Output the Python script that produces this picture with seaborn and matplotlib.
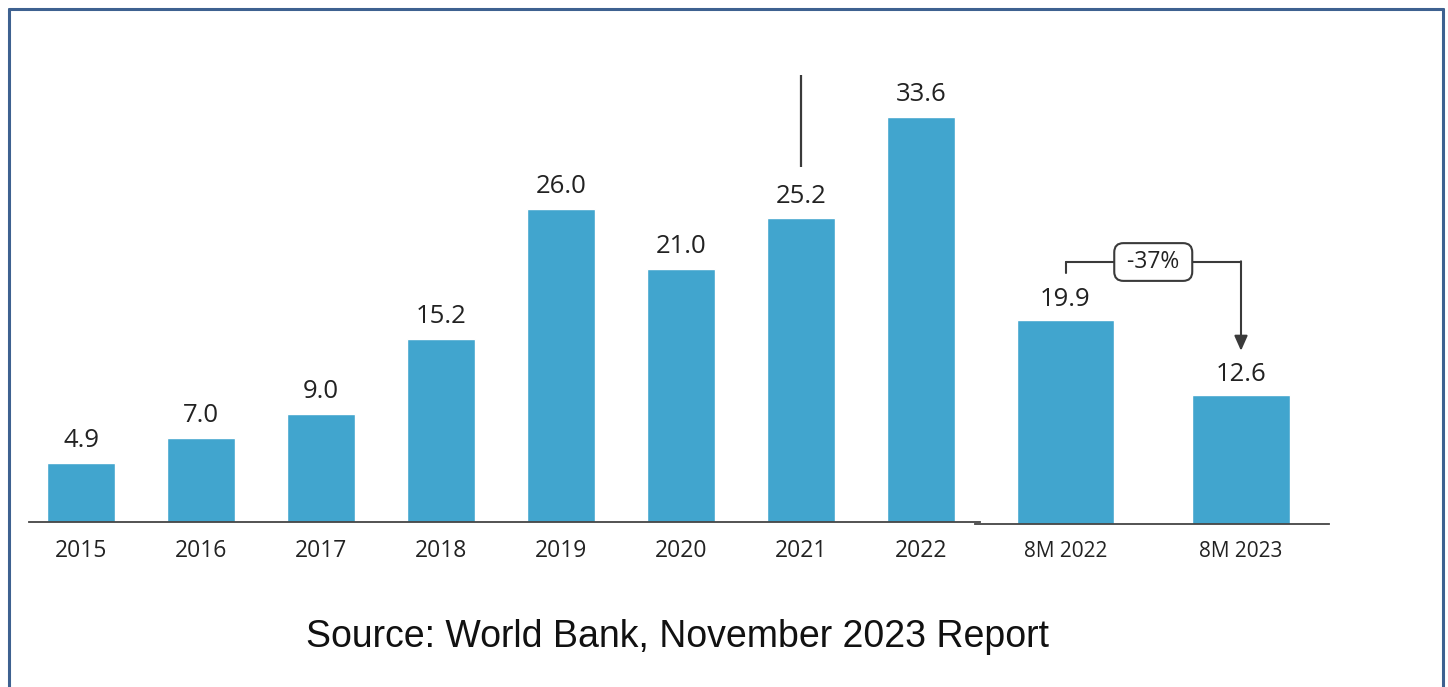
import matplotlib
matplotlib.use("Agg")
import matplotlib.pyplot as plt
import seaborn as sns
from matplotlib.lines import Line2D

# ---- data ----
years = ["2015", "2016", "2017", "2018", "2019", "2020", "2021", "2022"]
year_values = [4.9, 7.0, 9.0, 15.2, 26.0, 21.0, 25.2, 33.6]
ytd_labels = ["8M 2022", "8M 2023"]
ytd_values = [19.9, 12.6]
change_label = "-37%"
source_text = "Source: World Bank, November 2023 Report"

BAR = "#41A5CE"
TXT = "#222222"
AX = "#444444"

sns.set_style("white")
plt.rcParams["font.family"] = ["Open Sans", "DejaVu Sans"]

W, H = 1448, 687
fig = plt.figure(figsize=(W / 100, H / 100), dpi=100)
fig.patch.set_facecolor("white")

def frac(x0, y_top, x1, y_bot):
    return [x0 / W, (H - y_bot) / H, (x1 - x0) / W, (y_bot - y_top) / H]

# left panel: baseline at y=522, 12.05 px per unit
ymax1 = 40
ax1 = fig.add_axes(frac(29, 522 - ymax1 * 12.05, 980, 522))
sns.barplot(x=years, y=year_values, ax=ax1, color=BAR, saturation=1, width=0.567)
ax1.set_xlim((29 - 81) / 120, (980 - 81) / 120)
ax1.set_ylim(0, ymax1)

# right panel: baseline at y=524, 10.25 px per unit
ymax2 = 40
ax2 = fig.add_axes(frac(975, 524 - ymax2 * 10.25, 1329, 524))
sns.barplot(x=ytd_labels, y=ytd_values, ax=ax2, color=BAR, saturation=1, width=0.553)
ax2.set_xlim((975 - 1065.5) / 175.5, (1329 - 1065.5) / 175.5)
ax2.set_ylim(0, ymax2)

for ax, fs in ((ax1, 16.5), (ax2, 15)):
    ax.patch.set_alpha(0)
    for s in ("top", "left", "right"):
        ax.spines[s].set_visible(False)
    ax.spines["bottom"].set_color(AX)
    ax.spines["bottom"].set_linewidth(1.3)
    ax.set_yticks([])
    ax.set_xlabel("")
    ax.set_ylabel("")
    ax.tick_params(axis="x", length=0, pad=12, labelsize=fs, labelcolor=TXT)

# value labels
for i, v in enumerate(year_values):
    ax1.annotate(f"{v:.1f}", (i, v), xytext=(0, 16), textcoords="offset points",
                 ha="center", va="center", fontsize=18.5, color=TXT)
for i, v in enumerate(ytd_values):
    ax2.annotate(f"{v:.1f}", (i, v), xytext=(0, 15), textcoords="offset points",
                 ha="center", va="center", fontsize=18.5, color=TXT)

# vertical line above 2021
ax1.plot([6, 6], [29.46, 37.1], color="#3a3a3a", lw=1.6, solid_capstyle="butt", clip_on=False)

# -37% bracket annotation
yb = 25.56
ax2.plot([0, 0], [24.49, yb], color="#3a3a3a", lw=1.5, clip_on=False)
ax2.plot([0, 1], [yb, yb], color="#3a3a3a", lw=1.5, clip_on=False)
ax2.annotate("", xy=(1, 16.9), xytext=(1, yb + 0.07),
             arrowprops=dict(arrowstyle="-|>,head_length=0.9,head_width=0.4",
                             color="#3a3a3a", lw=1.5, shrinkA=0, shrinkB=0),
             annotation_clip=False)
ax2.text(0.5, yb, f" {change_label} ", ha="center", va="center", fontsize=16.5, color=TXT,
         zorder=5,
         bbox=dict(boxstyle="round,pad=0.3,rounding_size=0.4", fc="white",
                   ec="#3a3a3a", lw=1.5))

# source
fig.text(677 / W, (H - 637) / H, source_text, ha="center", va="center",
         fontsize=27, color="#111111", family=["Liberation Sans", "DejaVu Sans"])

# frame
frame_color = "#3E6190"
fig.add_artist(Line2D([9 / W, 9 / W], [0, (H - 9) / H], color=frame_color, lw=2.2,
                      transform=fig.transFigure))
fig.add_artist(Line2D([1443 / W, 1443 / W], [0, (H - 9) / H], color=frame_color, lw=2.2,
                      transform=fig.transFigure))
fig.add_artist(Line2D([9 / W, 1443 / W], [(H - 9) / H, (H - 9) / H], color=frame_color,
                      lw=2.2, transform=fig.transFigure))

fig.savefig("out.png", dpi=100, facecolor="white")
